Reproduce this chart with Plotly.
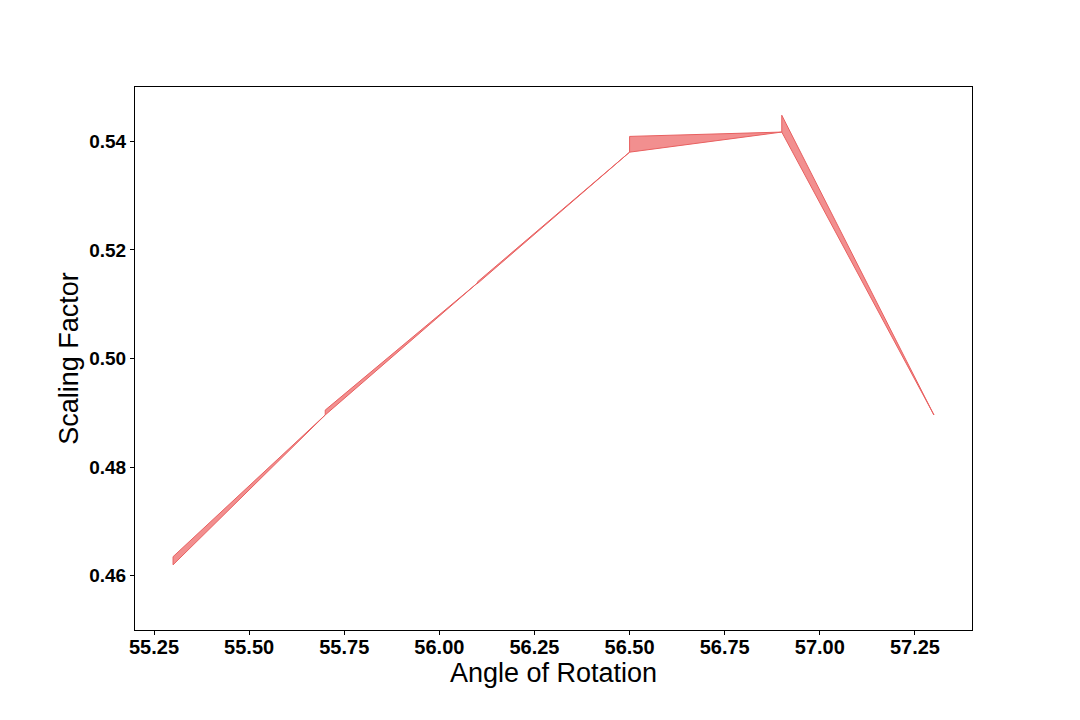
import plotly.graph_objects as go

# Segment data (each band segment tapers from a vertical edge to a point)
x_start = [55.3, 55.7, 56.1, 56.5, 56.9]
x_end = [55.7, 56.1, 56.5, 56.9, 57.3]
lower_start = [0.4620, 0.4896, 0.5138, 0.5380, 0.5417]
upper_start = [0.4635, 0.4905, 0.5141, 0.5409, 0.5448]
y_end = [0.4896, 0.5139, 0.5380, 0.5417, 0.4896]

x_ticks = [55.25, 55.5, 55.75, 56.0, 56.25, 56.5, 56.75, 57.0, 57.25]
y_ticks = [0.46, 0.48, 0.50, 0.52, 0.54]

fig = go.Figure()
for xs, xe, lo, hi, ye in zip(x_start, x_end, lower_start, upper_start, y_end):
    fig.add_trace(go.Scatter(
        x=[xs, xe, xs, xs],
        y=[lo, ye, hi, lo],
        mode="lines",
        fill="toself",
        fillcolor="rgba(240,128,128,0.88)",
        line=dict(color="rgba(232,96,96,1)", width=1),
        hoverinfo="skip",
        showlegend=False,
    ))

fam = "Liberation Sans, Arial"
title_font = dict(family=fam, size=27, color="black")

# page body has an 8px default margin, so the figure is sized/offset to compensate
fig.update_layout(
    width=1072, height=712,
    paper_bgcolor="white", plot_bgcolor="white",
    margin=dict(l=127, r=108, t=79, b=90),
    showlegend=False,
    xaxis=dict(
        range=[55.2, 57.4], tickvals=x_ticks,
        ticktext=[f"{v:.2f}" for v in x_ticks],
        showgrid=False, zeroline=False,
        showline=True, linecolor="black", linewidth=1, mirror=True,
        ticks="outside", ticklen=4, tickcolor="black",
        tickfont=dict(family=fam, size=20, color="black", weight="bold"),
        ticklabelstandoff=-5,
        title=dict(text="Angle of Rotation", font=title_font, standoff=0),
    ),
    yaxis=dict(
        range=[0.45, 0.55], tickvals=y_ticks,
        ticktext=[f"{v:.2f}" for v in y_ticks],
        showgrid=False, zeroline=False,
        showline=True, linecolor="black", linewidth=1, mirror=True,
        ticks="outside", ticklen=4, tickcolor="black",
        tickfont=dict(family=fam, size=19, color="black", weight="bold"),
        title=dict(text="Scaling Factor", font=title_font, standoff=2),
    ),
)

fig.write_html("out.html")
